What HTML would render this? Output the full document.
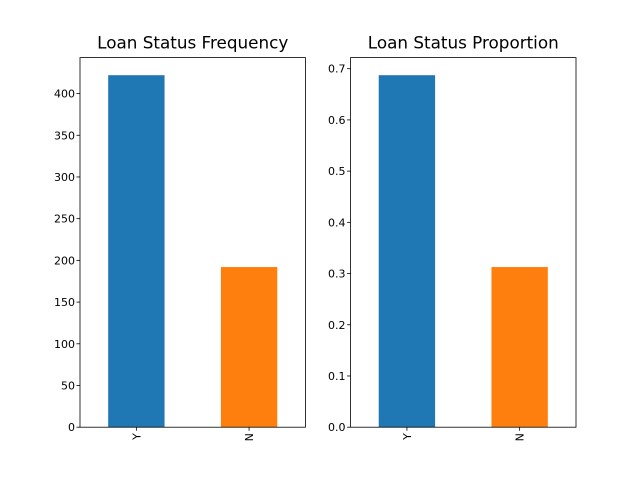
<!DOCTYPE html>
<html><head><meta charset="utf-8"><style>
html,body{margin:0;padding:0;background:#fff;}
svg text{font-family:"DejaVu Sans","Liberation Sans",sans-serif;}
</style></head><body>
<svg id="fig" width="640" height="480" xmlns="http://www.w3.org/2000/svg"></svg>
<script>
const categories = ["Y", "N"];
const freqValues = [422, 192];
const propValues = [0.6873, 0.3127];
const freqTicks = [0, 50, 100, 150, 200, 250, 300, 350, 400];
const propTicks = [0.0, 0.1, 0.2, 0.3, 0.4, 0.5, 0.6, 0.7];
const colors = ["#1f77b4", "#ff7f0e"];
const NS = "http://www.w3.org/2000/svg";
const svg = document.getElementById("fig");
function mk(tag, attrs, parent) {
  const e = document.createElementNS(NS, tag);
  for (const k in attrs) e.setAttribute(k, attrs[k]);
  (parent || svg).appendChild(e);
  return e;
}
function panel(x0, w, values, ticks, fmt, title, key) {
  const top = 57.6, bottom = 427.2, h = bottom - top;
  const ymax = Math.max(...values) * 1.05;
  const sy = v => bottom - v / ymax * h;
  const sx = i => x0 + (i + 0.5) / 2 * w;
  const g = mk("g", {});
  
  
  values.forEach((v, i) => {
    const r = mk("rect", {x: sx(i) - 0.25 / 2 * w, y: sy(v), width: 0.5 / 2 * w, height: bottom - sy(v), fill: colors[i]}, g);
    
    
    mk("line", {x1: sx(i), x2: sx(i), y1: bottom, y2: bottom + 3.5, stroke: "#000", "stroke-width": 0.8}, g);
    const t = mk("text", {x: 0, y: 0, "font-size": 11, "text-anchor": "end", transform: `translate(${sx(i) + 4},${bottom + 6}) rotate(-90)`}, g);
    t.textContent = categories[i];
    
    
  });
  ticks.forEach(tv => {
    const y = sy(tv);
    mk("line", {x1: x0 - 3.5, x2: x0, y1: y, y2: y, stroke: "#000", "stroke-width": 0.8}, g);
    const t = mk("text", {x: x0 - 5, y: y + 4, "font-size": 11, "text-anchor": "end"}, g);
    t.textContent = fmt(tv);
    
    
  });
  const fr = mk("rect", {x: x0, y: top, width: w, height: h, fill: "none", stroke: "#000", "stroke-width": 0.8}, g);
  
  
  const tt = mk("text", {x: x0 + w / 2, y: top - 9, "font-size": 16.8, "text-anchor": "middle"}, g);
  tt.textContent = title;
  
  
}
panel(80, 225.45, freqValues, freqTicks, v => String(v), "Loan Status Frequency", "frequency");
panel(350.55, 225.45, propValues, propTicks, v => v.toFixed(1), "Loan Status Proportion", "proportion");
</script>
</body></html>
